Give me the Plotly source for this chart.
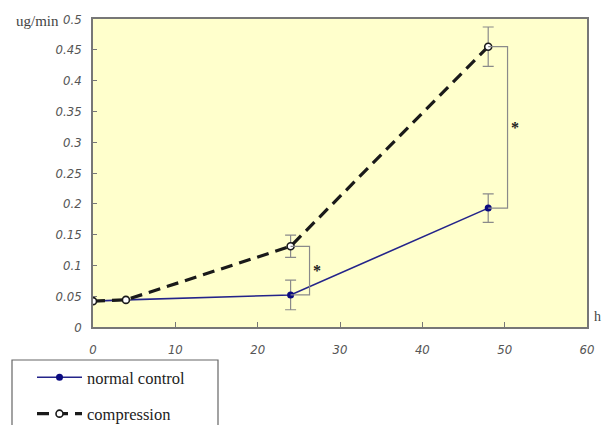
import plotly.graph_objects as go

hours = [0, 4, 24, 48]
normal_control = [0.042, 0.044, 0.052, 0.193]
normal_err = [0, 0, 0.024, 0.023]
compression = [0.042, 0.044, 0.131, 0.455]
compression_err = [0, 0, 0.018, 0.032]
x_ticks = [0, 10, 20, 30, 40, 50, 60]
y_ticks = [0, 0.05, 0.1, 0.15, 0.2, 0.25, 0.3, 0.35, 0.4, 0.45, 0.5]
y_tick_labels = ["0", "0.05", "0.1", "0.15", "0.2", "0.25", "0.3", "0.35", "0.4", "0.45", "0.5"]
sig_hours = [24, 48]
sig_offset = [2.3, 2.35]

W, H = 607, 425
L, R, T, B = 93, 20, 19, 98
PW, PH = W - L - R, H - T - B

fig = go.Figure()

fig.add_trace(go.Scatter(
    x=hours, y=normal_control, name="normal control", mode="lines+markers",
    line=dict(color="#24248a", width=1.6),
    marker=dict(color="#0a0a80", size=7, line=dict(width=0)),
    error_y=dict(type="data", array=normal_err, color="#8a8a8a", thickness=1.2, width=5.5),
    legendgroup="a",
))
fig.add_trace(go.Scatter(
    x=hours, y=compression, name="compression", mode="lines+markers",
    line=dict(color="#1a1a1a", width=3.2, dash="12px,7px"),
    marker=dict(color="white", size=7, line=dict(color="#1a1a1a", width=1.6)),
    error_y=dict(type="data", array=compression_err, color="#8a8a8a", thickness=1.2, width=5.5),
    legendgroup="b",
))

# significance brackets
for h, off in zip(sig_hours, sig_offset):
    i = hours.index(h)
    xb = h + off
    fig.add_trace(go.Scatter(
        x=[h, xb, xb, h], y=[compression[i], compression[i], normal_control[i], normal_control[i]],
        mode="lines", line=dict(color="#8a8a8a", width=1.2), showlegend=False, hoverinfo="skip",
    ))
    fig.add_annotation(x=xb + 0.9, y=(compression[i] + normal_control[i]) / 2, text="<b>*</b>",
                       showarrow=False, font=dict(family="Liberation Serif", size=16, color="#222"),
                       xanchor="center", yanchor="middle")

tickfont = dict(family="Liberation Sans Narrow, DejaVu Sans Condensed, sans-serif", size=13,
                color="#555", style="italic")

fig.update_layout(
    width=W, height=H,
    margin=dict(l=L, r=R, t=T, b=B, autoexpand=False),
    paper_bgcolor="white", plot_bgcolor="#FFFFCC",
    showlegend=True,
    legend=dict(x=(40 - 8 - L) / PW, y=(327 - 360) / PH,
                xanchor="left", yanchor="top",
                font=dict(family="Liberation Serif", size=16.5, color="#222"),
                bgcolor="rgba(0,0,0,0)", borderwidth=0, itemwidth=45,
                tracegroupgap=12),
    xaxis=dict(range=[0, 60], tickvals=x_ticks, ticks="inside", ticklen=5, tickcolor="#777",
               showline=True, linecolor="#777", linewidth=1.5, mirror=True, showgrid=False,
               zeroline=False, tickfont=tickfont, ticklabelstandoff=10, fixedrange=True),
    yaxis=dict(range=[0, 0.5], tickvals=y_ticks, ticktext=y_tick_labels, ticks="inside", ticklen=4,
               tickcolor="#777", showline=True, linecolor="#777", linewidth=1.5, mirror=True,
               showgrid=False, zeroline=False, tickfont=tickfont, ticklabelstandoff=7, fixedrange=True),
    shapes=[dict(type="rect", xref="paper", yref="paper",
                 x0=(12 - L) / PW, x1=(218 - L) / PW,
                 y0=(327 - 440) / PH, y1=(327 - 360) / PH,
                 line=dict(color="#666", width=1.2), fillcolor="rgba(0,0,0,0)")],
    annotations=list(fig.layout.annotations) + [
        dict(xref="paper", yref="paper", x=(14 - L) / PW, y=(327 - 21) / PH, text="ug/min",
             showarrow=False, xanchor="left", yanchor="middle",
             font=dict(family="Liberation Serif", size=15, color="#444")),
        dict(xref="paper", yref="paper", x=(597 - L) / PW, y=(327 - 316) / PH,
             text="h", showarrow=False, xanchor="center", yanchor="middle",
             font=dict(family="Liberation Serif", size=14, color="#444")),
    ],
)

fig.write_html("out.html", config={"displayModeBar": False},
               post_script="document.body.style.margin='0';document.body.style.overflow='hidden';")
